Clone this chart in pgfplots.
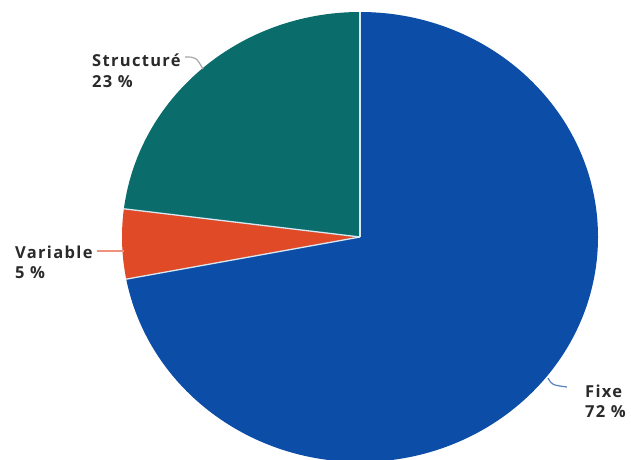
\documentclass[border=0pt]{standalone}
\usepackage{pgfplots}
\pgfplotsset{compat=1.18}
\usepackage{fontspec}
\setmainfont{Open Sans}
\newfontfamily\lab[LetterSpace=8]{Open Sans}
\definecolor{fixeblue}{HTML}{0C4DA8}
\definecolor{varorange}{HTML}{E04A26}
\definecolor{structteal}{HTML}{0B6D6B}
\definecolor{txt}{HTML}{2A2A2A}
\definecolor{sep}{HTML}{D8E8F2}
% values (percent): Fixe, Variable, Structure
\def\vFixe{72}
\def\vVar{5}
\def\vStr{23}
\begin{document}
\begin{tikzpicture}
\begin{axis}[
  width=631pt, height=459pt, scale only axis,
  xmin=0, xmax=631, ymin=0, ymax=459,
  hide axis, clip=true,
]
\clip (axis cs:0,0) rectangle (axis cs:631,459);
\pgfmathsetmacro\aA{90}
\pgfmathsetmacro\aB{90-\vFixe*3.6}
\pgfmathsetmacro\aC{\aB-\vVar*3.6}
\pgfmathsetmacro\aD{\aC-\vStr*3.6}
\fill[fixeblue] (axis cs:360,222) -- ++(\aA:238pt and 225pt)
  arc[start angle=\aA, end angle=\aB, x radius=238pt, y radius=225pt] -- cycle;
\fill[varorange] (axis cs:360,222) -- ++(\aB:238pt and 225pt)
  arc[start angle=\aB, end angle=\aC, x radius=238pt, y radius=225pt] -- cycle;
\fill[structteal] (axis cs:360,222) -- ++(\aC:238pt and 225pt)
  arc[start angle=\aC, end angle=\aD, x radius=238pt, y radius=225pt] -- cycle;
\draw[sep, line width=1.3pt] (axis cs:360,222) -- ++(\aA:238pt and 225pt);
\draw[sep, line width=1.3pt] (axis cs:360,222) -- ++(\aB:238pt and 225pt);
\draw[sep, line width=1.3pt] (axis cs:360,222) -- ++(\aC:238pt and 225pt);
% leader lines
\draw[gray!70, line width=1.2pt] (axis cs:185,402) .. controls (axis cs:196,402) .. (axis cs:203,390);
\draw[varorange!60, line width=1.2pt] (axis cs:97,208) -- (axis cs:124,208);
\draw[fixeblue!70, line width=1.2pt] (axis cs:548,81) .. controls (axis cs:552,74) .. (axis cs:567,72);
% labels
\tikzset{lbl/.style={anchor=base west, inner sep=0pt, text=txt, font=\lab\fontsize{16.5}{18}\selectfont\bfseries}}
\node[lbl] at (axis cs:92,392) {Structuré};
\node[lbl] at (axis cs:92,372) {23 \%};
\node[lbl] at (axis cs:15,201) {Variable};
\node[lbl] at (axis cs:15,181) {5 \%};
\node[lbl] at (axis cs:585,62) {Fixe};
\node[lbl] at (axis cs:585,42) {72 \%};
\end{axis}
\end{tikzpicture}
\end{document}
